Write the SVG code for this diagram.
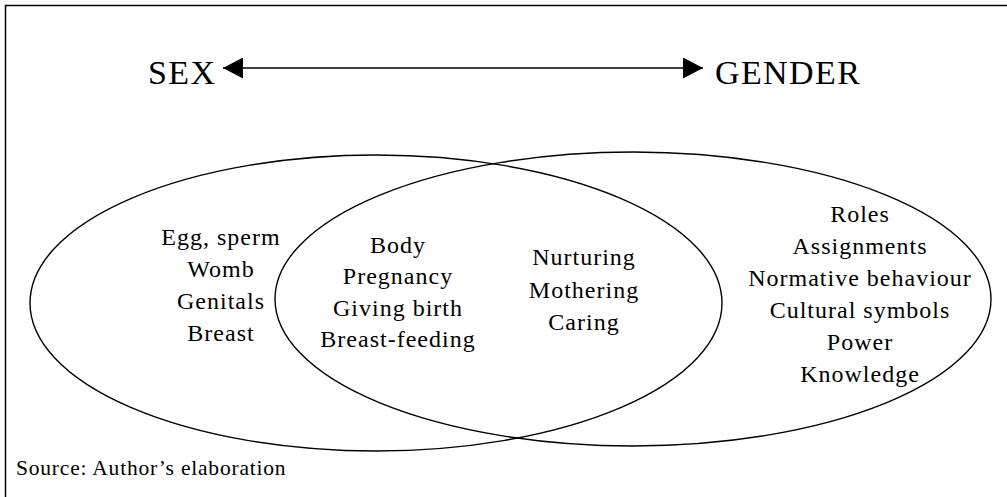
<svg xmlns="http://www.w3.org/2000/svg" width="1007" height="497" viewBox="0 0 1007 497">
<style>
.frame{fill:none;stroke:#000;stroke-width:1.5}
.ell{fill:none;stroke:#000;stroke-width:1.4}
.t{font-family:"Liberation Serif","Times New Roman",serif;font-size:24px;letter-spacing:1px;fill:#000;text-anchor:middle}
.big{font-family:"Liberation Serif","Times New Roman",serif;font-size:34px;letter-spacing:1.4px;fill:#000}
.src{font-family:"Liberation Serif","Times New Roman",serif;font-size:21.5px;letter-spacing:0.8px;fill:#000}
.conn{fill:none;stroke:#000;stroke-width:1.4}
</style>
<defs>
<marker id="ah" viewBox="0 0 20 21" refX="20" refY="10.5" markerWidth="20" markerHeight="21" markerUnits="userSpaceOnUse" orient="auto-start-reverse">
<path d="M0,0 L20,10.5 L0,21 Z" fill="#000"/>
</marker>
</defs>
<rect width="1007" height="497" fill="#fff"/>
<path class="frame" d="M5.5,497 L5.5,5.5 L1007,5.5"/>
<g id="sex-label"><text class="big" x="148" y="84">SEX</text></g>
<g id="gender-label"><text class="big" x="715" y="84">GENDER</text></g>
<g id="connectors">
<line class="conn" x1="223" y1="68" x2="703" y2="68" marker-start="url(#ah)" marker-end="url(#ah)"/>
</g>
<g id="sex-ellipse">
<ellipse class="ell" cx="376" cy="303" rx="346" ry="148"/>
<text class="t" x="221" y="245">Egg, sperm</text>
<text class="t" x="221" y="277">Womb</text>
<text class="t" x="221" y="309">Genitals</text>
<text class="t" x="221" y="341">Breast</text>
</g>
<g id="gender-ellipse">
<ellipse class="ell" cx="633" cy="299" rx="358" ry="147"/>
<text class="t" x="860" y="222">Roles</text>
<text class="t" x="860" y="254">Assignments</text>
<text class="t" x="860" y="286">Normative behaviour</text>
<text class="t" x="860" y="318">Cultural symbols</text>
<text class="t" x="860" y="350">Power</text>
<text class="t" x="860" y="382">Knowledge</text>
</g>
<g id="overlap">
<text class="t" x="398" y="253">Body</text>
<text class="t" x="398" y="284">Pregnancy</text>
<text class="t" x="398" y="316">Giving birth</text>
<text class="t" x="398" y="347">Breast-feeding</text>
<text class="t" x="584" y="265">Nurturing</text>
<text class="t" x="584" y="298">Mothering</text>
<text class="t" x="584" y="330">Caring</text>
</g>
<g id="source"><text class="src" x="16" y="475">Source: Author’s elaboration</text></g>
</svg>
